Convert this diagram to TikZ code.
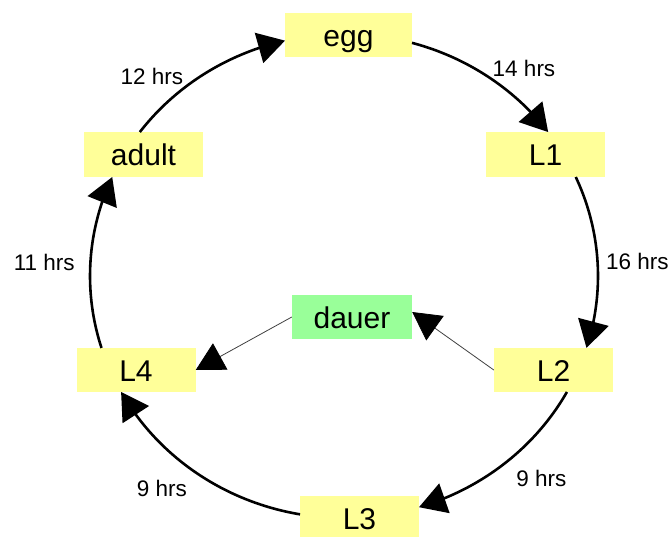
\documentclass[tikz,border=0pt]{standalone}
\usepackage{fontspec}
\setmainfont{Liberation Sans}
\usetikzlibrary{arrows.meta,bending}
\definecolor{boxyellow}{HTML}{FFFF99}
\definecolor{boxgreen}{HTML}{99FF99}
\tikzset{
  stagebox/.style={rectangle, fill=boxyellow, inner sep=0pt, minimum width=119pt,
    minimum height=44.5pt, text height=22.5pt, text depth=0pt,
    font=\fontsize{30}{36}\selectfont},
  dauerbox/.style={stagebox, fill=boxgreen, minimum width=120pt},
  hrslabel/.style={anchor=base, inner sep=0pt, font=\fontsize{22.5}{26}\selectfont},
  cycle/.style={line width=2.6pt, -{Triangle[length=27pt,width=31pt]}},
  branch/.style={line width=0.8pt, black!75, -{Triangle[length=28pt,width=30pt,color=black]}}
}
\begin{document}
\begin{tikzpicture}[x=1pt,y=1pt]
\useasboundingbox (0,0) rectangle (672,-537);
\coordinate (c) at (344,-276);
% nodes
\node[stagebox, minimum width=127pt] (egg) at (348.5,-35) {egg};
\node[stagebox] (L1) at (545.5,-154.5) {L1};
\node[stagebox] (L2) at (553.5,-370) {L2};
\node[stagebox] (L3) at (359.5,-518) {L3};
\node[stagebox] (L4) at (136,-370) {L4};
\node[stagebox] (adult) at (143.5,-154.5) {adult};
\node[dauerbox] (dauer) at (352,-317) {dauer};
% cycle arcs
\draw[cycle] ([shift={(74.47:254pt and 242pt)}]c) arc[start angle=74.47, end angle=36.5, x radius=254pt, y radius=242pt];
\draw[cycle] ([shift={(24.15:254pt and 242pt)}]c) arc[start angle=24.15, end angle=-17.3, x radius=254pt, y radius=242pt];
\draw[cycle] ([shift={(-28.64:254pt and 242pt)}]c) arc[start angle=-28.64, end angle=-72.83, x radius=254pt, y radius=242pt];
\draw[cycle] ([shift={(260.03:254pt and 242pt)}]c) arc[start angle=260.03, end angle=208.64, x radius=254pt, y radius=242pt];
\draw[cycle] ([shift={(197.3:254pt and 242pt)}]c) arc[start angle=197.3, end angle=155.85, x radius=254pt, y radius=242pt];
\draw[cycle] ([shift={(143.5:254pt and 242pt)}]c) arc[start angle=143.5, end angle=103.43, x radius=254pt, y radius=242pt];
% dauer branch
\draw[branch] (L2.west) -- ([yshift=5pt]dauer.east);
\draw[branch] (dauer.west) -- (L4.east);
% labels
\node[hrslabel] (t14) at (524,-76.7) {14 hrs};
\node[hrslabel] (t16) at (637.3,-270) {16 hrs};
\node[hrslabel] (t9r) at (541.3,-486.7) {9 hrs};
\node[hrslabel] (t9l) at (162,-496.7) {9 hrs};
\node[hrslabel] (t11) at (44.3,-270.7) {11 hrs};
\node[hrslabel] (t12) at (152,-85) {12 hrs};
\end{tikzpicture}
\end{document}
